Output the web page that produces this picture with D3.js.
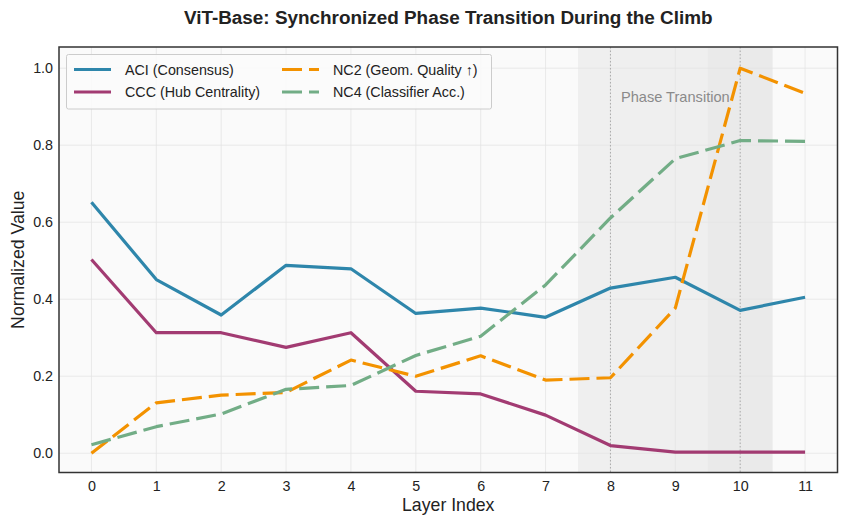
<!DOCTYPE html>
<html>
<head>
<meta charset="utf-8">
<script src="https://cdn.jsdelivr.net/npm/d3@7"></script>
<style>
  html, body { margin: 0; padding: 0; background: #ffffff; }
  svg { display: block; font-family: "Liberation Sans", Arial, sans-serif; }
</style>
</head>
<body>
<svg id="chart" width="848" height="525"></svg>
<script>
const layers = [0, 1, 2, 3, 4, 5, 6, 7, 8, 9, 10, 11];
const aci = [0.652, 0.451, 0.359, 0.488, 0.479, 0.363, 0.377, 0.353, 0.429, 0.457, 0.371, 0.405];
const ccc = [0.503, 0.313, 0.313, 0.275, 0.313, 0.161, 0.154, 0.099, 0.020, 0.003, 0.003, 0.003];
const nc2 = [0.000, 0.131, 0.151, 0.158, 0.242, 0.200, 0.253, 0.190, 0.196, 0.377, 1.000, 0.935];
const nc4 = [0.022, 0.069, 0.102, 0.166, 0.176, 0.254, 0.304, 0.437, 0.611, 0.765, 0.812, 0.810];
const yTicks = [0.0, 0.2, 0.4, 0.6, 0.8, 1.0];
const seriesNames = ["ACI (Consensus)", "CCC (Hub Centrality)", "NC2 (Geom. Quality \u2191)", "NC4 (Classifier Acc.)"];
const seriesColors = ["#2E86AB", "#A23B72", "#F39200", "#72AD86"];
const phaseSpans = [[7.5, 10.5], [9.5, 10.5]];
const phaseOpacity = [0.095, 0.045];
const phaseMarkers = [8, 10];
const phaseLabel = "Phase Transition";
const titleText = "ViT-Base: Synchronized Phase Transition During the Climb";

const svg = d3.select("#chart");
const L = 59, R = 837.5, T = 47, B = 472.5;

const x = d3.scaleLinear().domain([-0.5, 11.5]).range([L, R]);
const y = d3.scaleLinear().domain([-0.05, 1.055]).range([B, T]);

// axes background
svg.append("rect").attr("x", L).attr("y", T).attr("width", R - L).attr("height", B - T).attr("fill", "#fafafa");

// phase shading
phaseSpans.forEach((s, i) => {
  svg.append("rect")
    .attr("x", x(s[0])).attr("y", T)
    .attr("width", x(s[1]) - x(s[0])).attr("height", B - T)
    .attr("fill", "#888888").attr("fill-opacity", phaseOpacity[i]);
});

// grid
const grid = svg.append("g");
layers.forEach(v => {
  grid.append("line").attr("x1", x(v)).attr("x2", x(v)).attr("y1", T).attr("y2", B)
    .attr("stroke", "#e4e4e4").attr("stroke-width", 0.8);
});
yTicks.forEach(v => {
  grid.append("line").attr("x1", L).attr("x2", R).attr("y1", y(v)).attr("y2", y(v))
    .attr("stroke", "#e4e4e4").attr("stroke-width", 0.8);
});

// phase markers
phaseMarkers.forEach(v => {
  svg.append("line").attr("x1", x(v)).attr("x2", x(v)).attr("y1", T).attr("y2", B)
    .attr("stroke", "#aaaaaa").attr("stroke-width", 1).attr("stroke-dasharray", "1.5,2");
});

svg.append("text").attr("x", x(9)).attr("y", y(0.925)).attr("dy", "0.35em")
  .attr("text-anchor", "middle").attr("font-size", 14.6).attr("fill", "#8a8a8a").text(phaseLabel);

// lines
const data = [aci, ccc, nc2, nc4];
const dashes = [null, null, "20,7", "20,7"];
const line = d3.line().x((d, i) => x(layers[i])).y(d => y(d));
data.forEach((vals, k) => {
  svg.append("path").datum(vals).attr("d", line)
    .attr("fill", "none").attr("stroke", seriesColors[k]).attr("stroke-width", 3.2)
    .attr("stroke-linejoin", "round")
    .attr("stroke-dasharray", dashes[k]);
});

// axes ticks
const xAxis = d3.axisBottom(x).tickValues(layers).tickSize(0).tickPadding(8).tickFormat(d3.format("d"));
const gx = svg.append("g").attr("transform", `translate(0,${B})`).call(xAxis);
gx.select(".domain").remove();
gx.selectAll("text").attr("font-size", 14.3).attr("fill", "#222").attr("font-family", "Liberation Sans, Arial, sans-serif");

const yAxis = d3.axisLeft(y).tickValues(yTicks).tickSize(0).tickPadding(6).tickFormat(d3.format(".1f"));
const gy = svg.append("g").attr("transform", `translate(${L},0)`).call(yAxis);
gy.select(".domain").remove();
gy.selectAll("text").attr("font-size", 14.3).attr("fill", "#222").attr("font-family", "Liberation Sans, Arial, sans-serif");

// frame
svg.append("rect").attr("x", L).attr("y", T).attr("width", R - L).attr("height", B - T)
  .attr("fill", "none").attr("stroke", "#333").attr("stroke-width", 1.5);

// labels
svg.append("text").attr("x", (L + R) / 2).attr("y", 511).attr("text-anchor", "middle")
  .attr("font-size", 17.7).attr("fill", "#222").text("Layer Index");
svg.append("text").attr("transform", `translate(23.5,${(T + B) / 2}) rotate(-90)`).attr("text-anchor", "middle")
  .attr("font-size", 17.7).attr("fill", "#222").text("Normalized Value");
svg.append("text").attr("x", (L + R) / 2).attr("y", 24).attr("text-anchor", "middle")
  .attr("font-size", 18.9).attr("font-weight", "bold").attr("fill", "#222").text(titleText);

// legend
const lg = svg.append("g");
lg.append("rect").attr("x", 66.5).attr("y", 54.5).attr("width", 425).attr("height", 54.5).attr("rx", 2)
  .attr("fill", "#fbfbfb").attr("fill-opacity", 0.9).attr("stroke", "#cccccc").attr("stroke-width", 1);
const legPos = [[74, 69.5], [74, 92], [282, 69.5], [282, 92]];
seriesNames.forEach((name, k) => {
  const [lx, ly] = legPos[k];
  lg.append("line").attr("x1", lx).attr("x2", lx + 37).attr("y1", ly).attr("y2", ly)
    .attr("stroke", seriesColors[k]).attr("stroke-width", 3.2).attr("stroke-dasharray", dashes[k] ? "20,7" : null);
  lg.append("text").attr("x", lx + 51).attr("y", ly).attr("dy", "0.35em")
    .attr("font-size", 14.3).attr("fill", "#222").text(name);
});
</script>
</body>
</html>
